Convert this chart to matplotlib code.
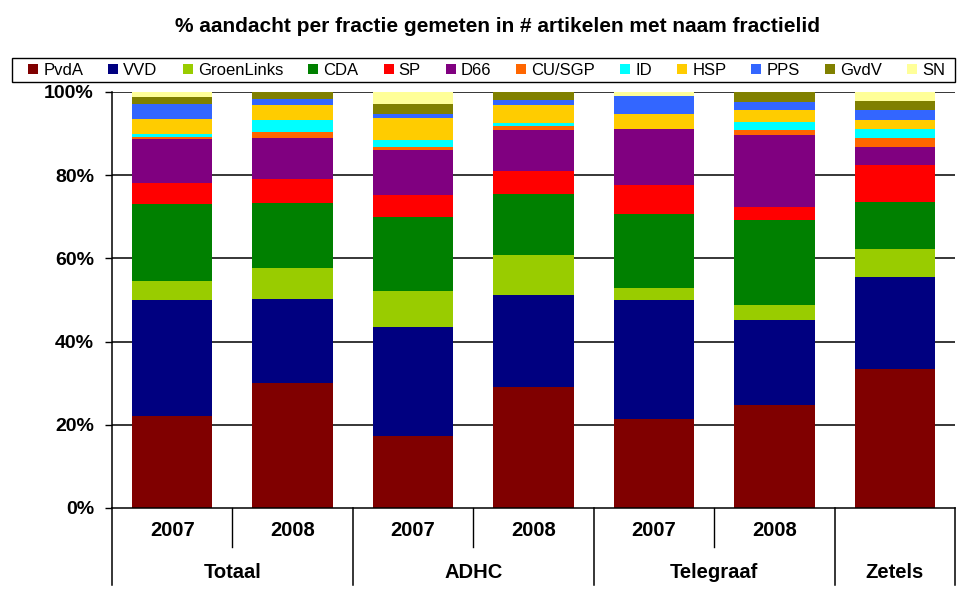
import matplotlib
matplotlib.use('Agg')
import matplotlib.pyplot as plt
from matplotlib.patches import Patch, Rectangle
import numpy as np

plt.rcParams['font.family'] = ['Liberation Sans', 'DejaVu Sans']

# ── data (% of articles per fraction) ──
years = ['2007', '2008', '2007', '2008', '2007', '2008', '']
groups = ['Totaal', 'ADHC', 'Telegraaf', 'Zetels']
group_first = [0, 2, 4, 6]
group_last = [1, 3, 5, 6]

parties = ['PvdA', 'VVD', 'GroenLinks', 'CDA', 'SP', 'D66', 'CU/SGP', 'ID', 'HSP', 'PPS', 'GvdV', 'SN']
pvda = [22.0, 30.0, 17.4, 29.2, 21.5, 24.7, 33.3]
vvd = [28.0, 20.2, 26.0, 22.0, 28.5, 20.5, 22.2]
groenlinks = [4.5, 7.5, 8.8, 9.6, 2.9, 3.6, 6.7]
cda = [18.6, 15.7, 17.8, 14.7, 17.8, 20.5, 11.1]
sp = [5.1, 5.7, 5.3, 5.5, 7.0, 3.1, 8.9]
d66 = [10.5, 9.9, 10.8, 9.9, 13.5, 17.3, 4.4]
cu_sgp = [0.6, 1.4, 0.7, 1.0, 0.0, 1.2, 2.2]
id_ = [0.7, 2.9, 1.7, 0.7, 0.0, 1.9, 2.2]
hsp = [3.6, 3.6, 5.3, 4.3, 3.6, 2.9, 2.2]
pps = [3.6, 1.5, 1.0, 1.2, 4.3, 2.0, 2.2]
gvdv = [1.5, 1.6, 2.4, 1.9, 0.0, 2.3, 2.2]
sn = [1.3, 0.0, 2.8, 0.0, 0.9, 0.0, 2.2]

colors = ['#800000', '#000080', '#99CC00', '#008000', '#FF0000', '#800080',
          '#FF6600', '#00FFFF', '#FFCC00', '#3366FF', '#808000', '#FFFF99']

series = np.array([pvda, vvd, groenlinks, cda, sp, d66, cu_sgp, id_, hsp, pps, gvdv, sn])
series = series / series.sum(axis=0) * 100  # 100% stacked

fig = plt.figure(figsize=(9.7, 6.04), dpi=100)
ax = fig.add_axes([112/970, 96/604, 843/970, 416/604])

x = np.arange(len(years))
bottom = np.zeros(len(years))
for vals, color in zip(series, colors):
    ax.bar(x, vals, 0.667, bottom=bottom, color=color, zorder=2, linewidth=0)
    bottom += vals

ax.set_xlim(-0.5, 6.5)
ax.set_ylim(0, 100)
ax.set_yticks([0, 20, 40, 60, 80, 100])
ax.set_yticklabels(['0%', '20%', '40%', '60%', '80%', '100%'], fontsize=14, fontweight='bold')
for v in [20, 40, 60, 80, 100]:
    ax.axhline(v, color='black', lw=1.1, zorder=1)
ax.tick_params(axis='y', length=5, width=1, pad=8)
ax.set_xticks([])
for s in ['top', 'right']:
    ax.spines[s].set_visible(False)
ax.spines['left'].set_linewidth(1.1)
ax.spines['bottom'].set_linewidth(1.1)

# two-level category axis
for i, yr in enumerate(years):
    ax.text(i, -0.053, yr, transform=ax.get_xaxis_transform(), ha='center', va='center',
            fontsize=14.5, fontweight='bold')
for g, a, b in zip(groups, group_first, group_last):
    ax.text((a + b) / 2, -0.156, g, transform=ax.get_xaxis_transform(), ha='center', va='center',
            fontsize=14.5, fontweight='bold')
for xs in [0.5, 2.5, 4.5]:
    ax.plot([xs, xs], [0, -0.094], transform=ax.get_xaxis_transform(), color='black', lw=1, clip_on=False)
for xs in [-0.5, 1.5, 3.5, 5.5, 6.5]:
    ax.plot([xs, xs], [0, -0.185], transform=ax.get_xaxis_transform(), color='black', lw=1.1, clip_on=False)

fig.text(498/970, 1 - 27/604, '% aandacht per fractie gemeten in # artikelen met naam fractielid',
         ha='center', va='center', fontsize=15, fontweight='bold')

# legend box drawn separately so entries keep an inner margin
fig.add_artist(Rectangle((12/970, 1 - 82/604), 943/970, 24/604, transform=fig.transFigure,
                         facecolor='white', edgecolor='black', linewidth=1, zorder=3))
handles = [Patch(facecolor=c, edgecolor='none') for c in colors]
leg = fig.legend(handles, parties, loc='lower left', ncol=12, mode='expand',
                 bbox_to_anchor=(24/970, 1 - 82/604, 925/970, 24/604),
                 fontsize=12, handlelength=0.6, handleheight=0.6, handletextpad=0.3,
                 borderpad=0.25, borderaxespad=0, frameon=False)
leg.set_zorder(4)

plt.savefig('out.png', dpi=100)
plt.close()
